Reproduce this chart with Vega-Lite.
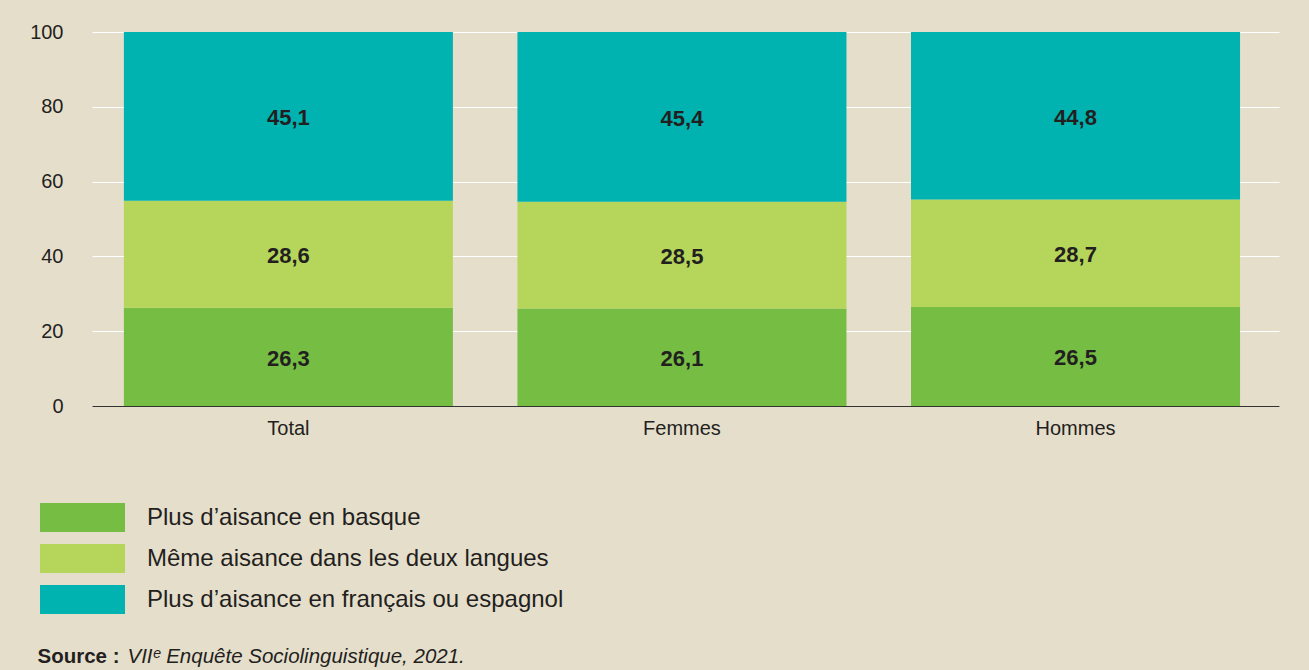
{
  "$schema": "https://vega.github.io/schema/vega-lite/v6.json",
  "width": 1187,
  "height": 374,
  "autosize": {"type": "none"},
  "padding": {"left": 92, "top": 32, "right": 30, "bottom": 264},
  "background": "#E5DECB",
  "config": {
    "locale": {"number": {"decimal": ",", "thousands": " ", "grouping": [3], "currency": ["", " €"]}},
    "view": {"stroke": null},
    "font": "Liberation Sans",
    "axis": {"labelColor": "#231F20", "titleColor": "#231F20", "labelFont": "Liberation Sans", "titleFont": "Liberation Sans"},
    "legend": {"labelFont": "Liberation Sans"}
  },
  "data": {
    "values": [
      {"groupe": "Total", "cat": "Plus d’aisance en basque", "k": 1, "pct": 26.3},
      {"groupe": "Total", "cat": "Même aisance dans les deux langues", "k": 2, "pct": 28.6},
      {"groupe": "Total", "cat": "Plus d’aisance en français ou espagnol", "k": 3, "pct": 45.1},
      {"groupe": "Femmes", "cat": "Plus d’aisance en basque", "k": 1, "pct": 26.1},
      {"groupe": "Femmes", "cat": "Même aisance dans les deux langues", "k": 2, "pct": 28.5},
      {"groupe": "Femmes", "cat": "Plus d’aisance en français ou espagnol", "k": 3, "pct": 45.4},
      {"groupe": "Hommes", "cat": "Plus d’aisance en basque", "k": 1, "pct": 26.5},
      {"groupe": "Hommes", "cat": "Même aisance dans les deux langues", "k": 2, "pct": 28.7},
      {"groupe": "Hommes", "cat": "Plus d’aisance en français ou espagnol", "k": 3, "pct": 44.8}
    ]
  },
  "encoding": {
    "x": {
      "field": "groupe",
      "type": "nominal",
      "sort": ["Total", "Femmes", "Hommes"],
      "scale": {"paddingInner": 0.164, "paddingOuter": 0.09, "align": 0.45},
      "axis": {
        "labelAngle": 0,
        "ticks": false,
        "labelPadding": 12,
        "labelFontSize": 20,
        "domainColor": "#333333",
        "domainWidth": 1.2,
        "grid": false,
        "title": "VIIᵉ Enquête Sociolinguistique, 2021.",
        "titleX": 35,
        "titleY": 256,
        "titleAlign": "left",
        "titleBaseline": "alphabetic",
        "titleFontStyle": "italic",
        "titleFontWeight": "normal",
        "titleFontSize": 20.5
      }
    },
    "y": {
      "field": "pct",
      "type": "quantitative",
      "stack": "zero",
      "scale": {"domain": [0, 100], "nice": false},
      "axis": {
        "values": [0, 20, 40, 60, 80, 100],
        "domain": false,
        "ticks": false,
        "labelPadding": 29,
        "labelFontSize": 20,
        "gridColor": "#FFFFFF",
        "gridWidth": 1.2,
        "title": "Source :",
        "titleAngle": 0,
        "titleX": -55,
        "titleY": 630,
        "titleAlign": "left",
        "titleBaseline": "alphabetic",
        "titleFontWeight": "bold",
        "titleFontSize": 20.5
      }
    },
    "order": {"field": "k", "type": "quantitative"}
  },
  "layer": [
    {
      "mark": {"type": "bar"},
      "encoding": {
        "color": {
          "field": "cat",
          "type": "nominal",
          "scale": {
            "domain": ["Plus d’aisance en basque", "Même aisance dans les deux langues", "Plus d’aisance en français ou espagnol"],
            "range": ["#76BD43", "#B6D65B", "#00B2B0"]
          },
          "legend": {
            "orient": "none",
            "legendX": -24,
            "legendY": 471,
            "title": null,
            "direction": "vertical",
            "symbolType": "M-2.931,-1H2.931V1H-2.931Z",
            "symbolSize": 841,
            "symbolStrokeWidth": 0,
            "symbolOpacity": 1,
            "labelFontSize": 24,
            "labelOffset": 50,
            "labelLimit": 700,
            "rowPadding": 12,
            "labelColor": "#231F20"
          }
        }
      }
    },
    {
      "mark": {"type": "text", "fontWeight": "bold", "fontSize": 22, "color": "#231F20", "baseline": "middle", "dy": 2},
      "encoding": {
        "y": {
          "field": "pct",
          "type": "quantitative",
          "stack": "zero",
          "bandPosition": 0.5,
          "scale": {"domain": [0, 100], "nice": false},
          "axis": {
            "values": [0, 20, 40, 60, 80, 100],
            "domain": false,
            "ticks": false,
            "labelPadding": 29,
            "labelFontSize": 20,
            "gridColor": "#FFFFFF",
            "gridWidth": 1.2,
            "title": "Source :",
            "titleAngle": 0,
            "titleX": -55,
            "titleY": 630,
            "titleAlign": "left",
            "titleBaseline": "alphabetic",
            "titleFontWeight": "bold",
            "titleFontSize": 20.5
          }
        },
        "detail": {"field": "cat"},
        "text": {"field": "pct", "type": "quantitative", "format": ".1f"}
      }
    }
  ]
}
